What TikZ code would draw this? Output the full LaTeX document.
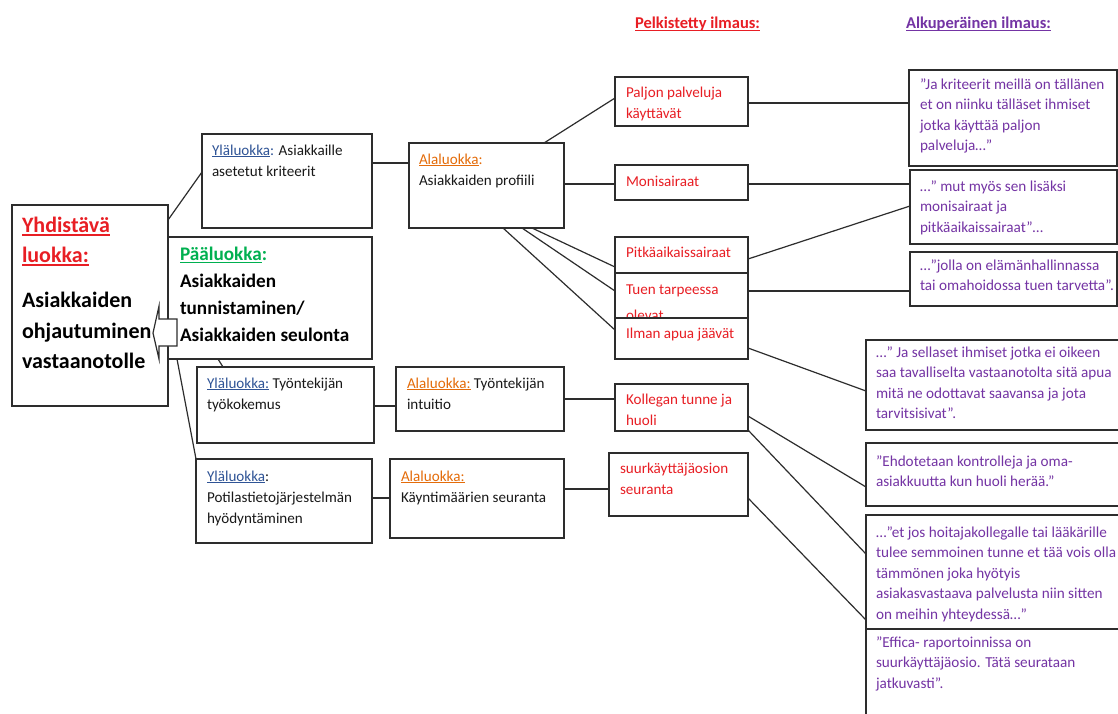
\documentclass[tikz,border=0pt]{standalone}
\usepackage{fontspec}
\setmainfont{Carlito}
\usetikzlibrary{calc}
\definecolor{cred}{RGB}{232,30,36}
\definecolor{cpurple}{RGB}{116,52,164}
\definecolor{cblue}{RGB}{47,84,150}
\definecolor{corange}{RGB}{228,108,10}
\definecolor{cgreen}{RGB}{0,176,80}
\definecolor{cline}{RGB}{45,45,45}
\definecolor{ctext}{RGB}{25,25,25}
\newcommand\myul[3]{\setbox0\hbox{#3}\rlap{\rule[-#1]{\wd0}{#2}}\box0}
\newcommand\bx[5]{\node[box, anchor=north west, minimum width={#4-#2}, minimum height={#5-#3}] (#1) at (#2,#3) {};}
\newcommand\sA{\rule{0pt}{13pt}}
\newcommand\sB{\rule{0pt}{16pt}}
\newcommand\sC{\rule{0pt}{19pt}}
\newcommand\sH{\rule{0pt}{14pt}}
\begin{document}
\begin{tikzpicture}[x=1pt,y=-1pt,
  box/.style={draw=cline, line width=1.3pt, fill=white, inner sep=0pt, outer sep=0pt},
  conn/.style={draw=cline, line width=1.2pt},
  tb/.style={inner sep=0pt, outer sep=0pt, anchor=north west, align=left},
  body/.style={tb, font=\fontsize{15.1}{21}\selectfont, text=ctext},
  quote/.style={tb, font=\fontsize{15.2}{20.6}\selectfont, text=cpurple},
  redt/.style={body, text=cred},
  big/.style={tb, font=\fontsize{19.2}{27.3}\selectfont\bfseries, text=black},
  huge/.style={tb, font=\fontsize{22}{30.5}\selectfont\bfseries, text=black},
  head/.style={tb, font=\fontsize{16.5}{20}\selectfont\bfseries}
]
\fill[white] (0,0) rectangle (1118,713);
\clip (0,0) rectangle (1118,713);

% headers
\node[head, text=cred] (h1) at (635,28-14) {\sH\myul{3pt}{1.4pt}{Pelkistetty ilmaus:}};
\node[head, text=cpurple] (h2) at (906,28-14) {\sH\myul{3pt}{1.4pt}{Alkuperäinen ilmaus:}};

% boxes
\bx{yhd}{12}{205}{168}{406}
\bx{ylae1}{202}{134}{372}{228}
\bx{paa}{168}{237}{372}{359}
\bx{ylae2}{197}{367}{374}{443}
\bx{ylae3}{196}{459}{372}{543}
\bx{ala1}{409}{143}{564}{228}
\bx{ala2}{396}{367}{564}{431}
\bx{ala3}{390}{459}{564}{538}
\bx{p1}{615}{77}{748}{126}
\bx{p2}{615}{165}{748}{200}
\bx{p3}{615}{237}{748}{273}
\bx{p4}{615}{273}{748}{318}
\node[redt] (p4t) at (626,294-13) {\sA Tuen tarpeessa\\[5pt]olevat};
\bx{p5}{615}{318}{748}{359}
\bx{p6}{615}{384}{748}{431}
\bx{p7}{609}{453}{748}{516}
\bx{q1}{909}{70}{1117}{166}
\bx{q2}{910}{170}{1117}{244}
\bx{q3}{910}{252}{1117}{306}
\bx{q4}{866}{340}{1135}{430}
\bx{q5}{866}{443}{1135}{506}
\bx{q6}{866}{515}{1135}{629}
\bx{q7}{866}{629}{1135}{730}

% connectors
\draw[conn] ($(yhd.north east)+(0,15)$) -- ($(ylae1.north west)+(0,38)$);
\draw[conn] ($(paa.south west)+(50,0)$) -- ($(ylae2.north west)+(26,0)$);
\draw[conn] ($(paa.south west)+(9,0)$) -- (ylae3.north west);
\draw[conn] ($(ylae1.north east)+(0,29)$) -- ($(ala1.north west)+(0,20)$);
\draw[conn] ($(ylae2.north east)+(0,39)$) -- ($(ala2.north west)+(0,39)$);
\draw[conn] ($(ylae3.north east)+(0,39)$) -- ($(ala3.north west)+(0,39)$);
\draw[conn] ($(ala1.north west)+(135,0)$) -- ($(p1.north west)+(0,21)$);
\draw[conn] ($(ala1.north east)+(0,41)$) -- ($(p2.north west)+(0,19)$);
\draw[conn] ($(ala1.south west)+(123,0)$) -- ($(p3.north west)+(0,30)$);
\draw[conn] ($(ala1.south west)+(113,0)$) -- ($(p4.north west)+(0,18)$);
\draw[conn] ($(ala1.south west)+(94,0)$) -- ($(p5.north west)+(0,12)$);
\draw[conn] ($(ala2.north east)+(0,32)$) -- ($(p6.north west)+(0,15)$);
\draw[conn] ($(ala3.north east)+(0,30)$) -- ($(p7.north west)+(0,36)$);
\draw[conn] ($(p1.north east)+(0,26)$) -- ($(q1.north west)+(0,33)$);
\draw[conn] ($(p2.north east)+(0,19)$) -- ($(q2.north west)+(0,14)$);
\draw[conn] ($(p3.north east)+(0,22)$) -- ($(q2.north west)+(0,36)$);
\draw[conn] ($(p4.north east)+(0,18)$) -- ($(q3.north west)+(0,39)$);
\draw[conn] ($(p5.north east)+(0,30)$) -- ($(q4.north west)+(0,51)$);
\draw[conn] ($(p6.north east)+(0,32)$) -- ($(q5.north west)+(0,44)$);
\draw[conn] ($(p6.south east)+(0,-1)$) -- ($(q6.north west)+(0,39)$);
\draw[conn] ($(p7.north east)+(0,45)$) -- ($(q6.north west)+(0,105)$);

% texts
\node[huge] (yhdt) at (22,232-19) {\sC\textcolor{cred}{\myul{3.5pt}{1.6pt}{Yhdistävä}}\\\textcolor{cred}{\myul{3.5pt}{1.6pt}{luokka:}}\\[14.5pt]Asiakkaiden\\ohjautuminen\\vastaanotolle};
\node[big] (paat) at (180,260-16) {\sB\textcolor{cgreen}{\myul{3pt}{1.4pt}{Pääluokka}:}\\Asiakkaiden\\tunnistaminen/\\Asiakkaiden seulonta};
\node[body] (ylae1t) at (212,155-13) {\sA\textcolor{cblue}{\myul{2.3pt}{1.1pt}{Yläluokka}:} Asiakkaille\\asetetut kriteerit};
\node[body] (ylae2t) at (207,388-13) {\sA\textcolor{cblue}{\myul{2.3pt}{1.1pt}{Yläluokka:}} Työntekijän\\työkokemus};
\node[body] (ylae3t) at (207,481-13) {\sA\textcolor{cblue}{\myul{2.3pt}{1.1pt}{Yläluokka}}:\\Potilastietojärjestelmän\\hyödyntäminen};
\node[body] (ala1t) at (419,164-13) {\sA\textcolor{corange}{\myul{2.3pt}{1.1pt}{Alaluokka}:}\\Asiakkaiden profiili};
\node[body] (ala2t) at (407,388-13) {\sA\textcolor{corange}{\myul{2.3pt}{1.1pt}{Alaluokka:}} Työntekijän\\intuitio};
\node[body] (ala3t) at (401,481-13) {\sA\textcolor{corange}{\myul{2.3pt}{1.1pt}{Alaluokka:}}\\Käyntimäärien seuranta};
\node[redt] (p1t) at (626,97-13) {\sA Paljon palveluja\\käyttävät};
\node[redt] (p2t) at (626,186-13) {\sA Monisairaat};
\node[redt] (p3t) at (626,257-13) {\sA Pitkäaikaissairaat};
\node[redt] (p5t) at (626,338-13) {\sA Ilman apua jäävät};
\node[redt] (p6t) at (626,404-13) {\sA Kollegan tunne ja\\huoli};
\node[redt] (p7t) at (620,473-13) {\sA suurkäyttäjäosion\\seuranta};
\node[quote] (q1t) at (920,89-13) {\sA”Ja kriteerit meillä on tällänen\\et on niinku tälläset ihmiset\\jotka käyttää paljon\\palveluja…”};
\node[quote] (q2t) at (920,191-13) {\sA…” mut myös sen lisäksi\\monisairaat ja\\pitkäaikaissairaat”…};
\node[quote] (q3t) at (920,270-13) {\sA…”jolla on elämänhallinnassa\\tai omahoidossa tuen tarvetta”.};
\node[quote] (q4t) at (876,357-13) {\sA…” Ja sellaset ihmiset jotka ei oikeen\\saa tavalliselta vastaanotolta sitä apua\\mitä ne odottavat saavansa ja jota\\tarvitsisivat”.};
\node[quote] (q5t) at (876,466-13) {\sA”Ehdotetaan kontrolleja ja oma-\\asiakkuutta kun huoli herää.”};
\node[quote] (q6t) at (876,537-13) {\sA…”et jos hoitajakollegalle tai lääkärille\\tulee semmoinen tunne et tää vois olla\\tämmönen joka hyötyis\\asiakasvastaava palvelusta niin sitten\\on meihin yhteydessä…”};
\node[quote] (q7t) at (876,647-13) {\sA”Effica- raportoinnissa on\\suurkäyttäjäosio. Tätä seurataan\\jatkuvasti”.};

% block arrow
\filldraw[fill=white, draw=cline, line width=1.2pt, line join=miter] (177,319) -- (159,319) -- (159,306) -- (153,333) -- (159,359) -- (159,346) -- (177,346) -- cycle;
\end{tikzpicture}
\end{document}
